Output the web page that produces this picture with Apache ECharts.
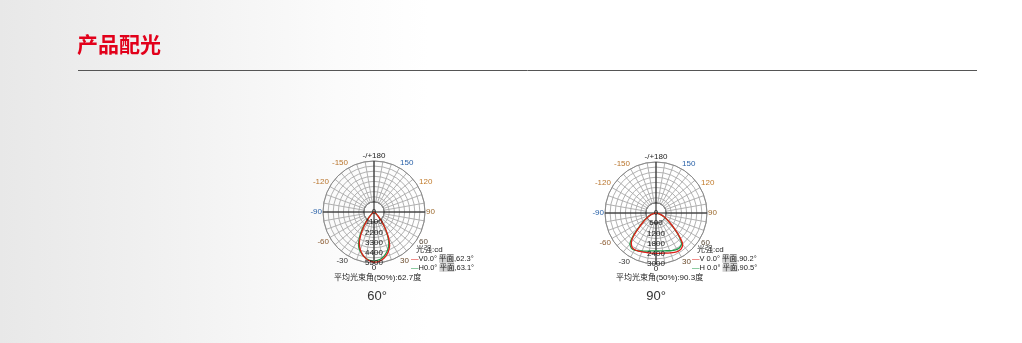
<!DOCTYPE html>
<html><head><meta charset="utf-8">
<script src="https://cdn.jsdelivr.net/npm/echarts@6/dist/echarts.min.js"></script>
<style>
html,body{margin:0;padding:0;width:1022px;height:343px;overflow:hidden;
background:linear-gradient(to right,#e8e8e8 0%,#f2f2f2 18%,#fbfbfb 33%,#ffffff 42%);}
#c{width:1022px;height:343px;}
</style></head><body><div id="c"></div>
<script>
// angles in degrees (0 = downward, + = right side)
const angles = [-90,-85,-80,-75,-70,-65,-60,-55,-50,-45,-40,-35,-30,-25,-20,-15,-10,-5,0,5,10,15,20,25,30,35,40,45,50,55,60,65,70,75,80,85,90];
// 60° lamp, cd
const v60 = [0,10,20,30,45,65,95,160,280,560,1080,1900,2850,3750,4320,4750,5080,5300,5400,5360,5200,4920,4530,3990,3080,2060,1180,610,300,170,100,70,50,30,20,10,0];
const h60 = [0,10,20,30,50,70,100,180,340,680,1300,2150,3120,3950,4430,4790,5060,5230,5300,5210,5030,4730,4330,3780,2930,1980,1190,620,310,170,100,70,50,30,20,10,0];
// 90° lamp, cd
const v90 = [0,40,100,190,330,480,650,920,1260,1800,2260,2460,2500,2470,2430,2400,2380,2370,2380,2380,2400,2440,2500,2560,2600,2580,2440,1950,1400,1000,720,500,330,190,100,40,0];
const h90 = [0,40,110,210,360,520,700,980,1330,1900,2380,2530,2530,2460,2380,2320,2270,2240,2230,2240,2260,2300,2360,2420,2470,2460,2340,1880,1360,980,700,490,320,180,100,40,0];
// radial scales
const scale60 = {max: 5500, labelStep: 1100, ringStep: 550};
const scale90 = {max: 3000, labelStep: 600, ringStep: 300};
const angleLabelColors = {'-150':'#b8742c','150':'#2a62a8','-120':'#b8742c','120':'#c07a2a','-90':'#2a62a8','90':'#9c6a2e','-60':'#8a5a30','60':'#5a4a3a','-30':'#333','30':'#6a4a2a','0':'#222','-/+180':'#222'};

const FONT = '"Liberation Sans","Noto Sans CJK SC",sans-serif';
const R = 51;
const centers = [[374, 212], [656, 213]];
const scales = [scale60, scale90];
const dataSets = [[v60, h60], [v90, h90]];
const RED = '#e0201a', GREEN = '#1f9a4a';
const GRID = '#a9a9a9';

const toAng = a => a < 0 ? a + 360 : a;
const polar = [], angleAxis = [], radiusAxis = [], series = [];

centers.forEach((c, i) => {
  const s = scales[i];
  // grid polar
  polar.push({center: c, radius: [R / 5, R]});
  angleAxis.push({polarIndex: 2*i, type: 'value', min: 0, max: 360, interval: 10, startAngle: 270, clockwise: false,
    axisLine: {lineStyle: {color: '#8a8a8a', width: 1}}, axisTick: {show: false},
    splitLine: {lineStyle: {color: GRID, width: 0.9}},
    axisLabel: {margin: 1, fontSize: 8, fontFamily: FONT,
      formatter: v => {
        if (v % 30 !== 0 || v === 360) return '';
        const t = v === 180 ? '-/+180' : (v > 180 ? String(v - 360) : String(v));
        return '{c' + Object.keys(angleLabelColors).indexOf(t) + '|' + t + '}';
      },
      rich: Object.fromEntries(Object.keys(angleLabelColors).map((k, j) => ['c' + j, {color: angleLabelColors[k], fontSize: 8, fontFamily: FONT}]))
    }});
  const ringColors = [];
  for (let r = s.labelStep; r <= s.max + 1e-6; r += s.ringStep) ringColors.push(ringColors.length ? GRID : '#111');
  radiusAxis.push({polarIndex: 2*i, type: 'value', min: s.labelStep, max: s.max, interval: s.ringStep,
    axisLine: {show: false}, axisTick: {show: false}, axisLabel: {show: false},
    splitLine: {lineStyle: {color: ringColors, width: 0.9}}});
  // data polar
  polar.push({center: c, radius: [0, R]});
  angleAxis.push({polarIndex: 2*i+1, type: 'value', min: 0, max: 360, startAngle: 270, clockwise: false,
    axisLine: {show: false}, axisTick: {show: false}, axisLabel: {show: false}, splitLine: {show: false}});
  radiusAxis.push({polarIndex: 2*i+1, type: 'value', min: 0, max: s.max, interval: s.labelStep, z: 20,
    axisLine: {show: false}, axisTick: {show: false}, splitLine: {show: false},
    axisLabel: {show: true, showMinLabel: true, showMaxLabel: true, margin: 0, align: 'center', verticalAlign: 'middle', rotate: 0,
      padding: [0, 0, 4, 0], fontSize: 8, color: '#222', fontFamily: FONT, formatter: v => String(v)}});
  // black cross axes
  series.push({type: 'line', coordinateSystem: 'polar', polarIndex: 2*i+1, silent: true, symbol: 'none', z: 3,
    lineStyle: {color: '#111', width: 1}, data: [[s.max, 180], [s.max, 0]]});
  series.push({type: 'line', coordinateSystem: 'polar', polarIndex: 2*i+1, silent: true, symbol: 'none', z: 3,
    lineStyle: {color: '#111', width: 1}, data: [[s.max, 90], [s.max, 270]]});
  // curves
  const [vv, hh] = dataSets[i];
  series.push({type: 'line', coordinateSystem: 'polar', polarIndex: 2*i+1, symbol: 'none', z: 5, smooth: 0.3,
    lineStyle: {color: GREEN, width: 1.3}, data: angles.map((a, k) => [hh[k], toAng(a)])});
  series.push({type: 'line', coordinateSystem: 'polar', polarIndex: 2*i+1, symbol: 'none', z: 6, smooth: 0.3,
    lineStyle: {color: RED, width: 1.3}, data: angles.map((a, k) => [vv[k], toAng(a)])});
});

const legendTexts = [
  {x: 416, unitY: 250, v: 'V0.0° ', vv: ',62.3°', h: 'H0.0° ', hv: ',63.1°', avg: '平均光束角(50%):62.7度', avgX: 334, big: '60°', bigX: 377},
  {x: 697, unitY: 250, v: 'V 0.0° ', vv: ',90.2°', h: 'H 0.0° ', hv: ',90.5°', avg: '平均光束角(50%):90.3度', avgX: 616, big: '90°', bigX: 656}
];
const graphic = [
  {type: 'text', left: 77, top: 34, style: {text: '产品配光', fill: '#e2001a', font: 'bold 21px "Noto Sans CJK SC",sans-serif'}},
  {type: 'line', shape: {x1: 78, y1: 70.5, x2: 977, y2: 70.5}, style: {stroke: '#555', lineWidth: 1}}
];
legendTexts.forEach(L => {
  const small = '7.5px ' + FONT;
  graphic.push({type: 'text', x: L.x, y: L.unitY, style: {text: '光强:cd', fill: '#222', font: '8px ' + FONT, verticalAlign: 'middle'}});
  graphic.push({type: 'text', x: L.x - 5, y: L.unitY + 9, style: {text: '{m|—}' + L.v + '{p|平面}' + L.vv, fill: '#222', font: small, verticalAlign: 'middle',
    rich: {m: {fill: RED, color: RED, font: small}, p: {backgroundColor: '#cfcfcf', font: small}}}});
  graphic.push({type: 'text', x: L.x - 5, y: L.unitY + 18, style: {text: '{m|—}' + L.h + '{p|平面}' + L.hv, fill: '#222', font: small, verticalAlign: 'middle',
    rich: {m: {fill: GREEN, color: GREEN, font: small}, p: {backgroundColor: '#cfcfcf', font: small}}}});
  graphic.push({type: 'text', x: L.avgX, y: 278, style: {text: L.avg, fill: '#222', font: '8px ' + FONT, verticalAlign: 'middle'}});
  graphic.push({type: 'text', x: L.bigX, y: 296, style: {text: L.big, fill: '#333', font: '13px ' + FONT, align: 'center', verticalAlign: 'middle'}});
});

const chart = echarts.init(document.getElementById('c'), null, {renderer: 'canvas'});
chart.setOption({animation: false, backgroundColor: 'transparent', polar, angleAxis, radiusAxis, series, graphic});
</script></body></html>
